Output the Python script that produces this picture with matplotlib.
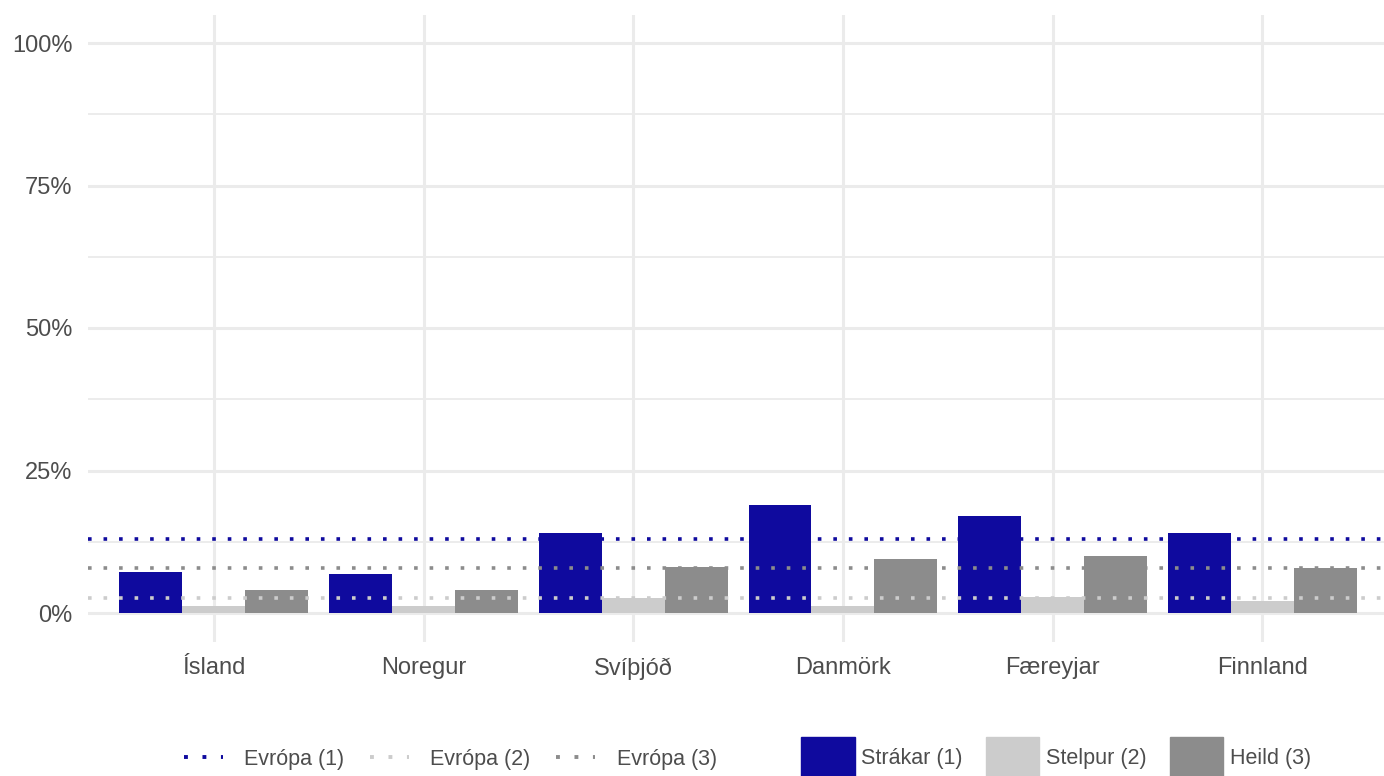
import matplotlib
matplotlib.use("Agg")
import matplotlib.pyplot as plt
import numpy as np
from matplotlib.lines import Line2D
from matplotlib.patches import Patch

plt.rcParams['font.family'] = ['Liberation Sans', 'DejaVu Sans']

countries = ["Ísland", "Noregur", "Svíþjóð", "Danmörk", "Færeyjar", "Finnland"]
strakar = [7.2, 6.8, 14.0, 18.9, 17.0, 14.0]
stelpur = [1.2, 1.2, 2.6, 1.2, 2.8, 2.1]
heild = [4.0, 4.0, 8.1, 9.5, 10.0, 7.9]
europe = [13.0, 2.7, 7.9]

series_labels = ["Strákar (1)", "Stelpur (2)", "Heild (3)"]
europe_labels = ["Evrópa (1)", "Evrópa (2)", "Evrópa (3)"]
colors = ["#0f0a9e", "#cccccc", "#8c8c8c"]

fig = plt.figure(figsize=(13.84, 7.76), dpi=100)
ax = fig.add_axes([88 / 1384, 1 - 641.5 / 776, 1 - 88 / 1384, (641.5 - 14.5) / 776])

x = np.arange(len(countries))
w = 0.3
for i, vals in enumerate([strakar, stelpur, heild]):
    ax.bar(x + (i - 1) * w, vals, width=w, color=colors[i], zorder=2)

for val, c in zip(europe, colors):
    ax.axhline(val, color=c, lw=2.6, linestyle=(0, (1, 3.3)), zorder=3)

ax.set_xlim(-0.6, 5.58)
ax.set_ylim(-5, 105)
ax.set_yticks([0, 25, 50, 75, 100])
ax.set_yticklabels(["0%", "25%", "50%", "75%", "100%"])
ax.set_yticks([12.5, 37.5, 62.5, 87.5], minor=True)
ax.set_xticks(x)
ax.set_xticklabels(countries)
ax.grid(True, which="major", color="#ebebeb", lw=2.2, zorder=0)
ax.grid(True, which="minor", axis="y", color="#ebebeb", lw=1.3, zorder=0)
ax.set_axisbelow(True)
for s in ax.spines.values():
    s.set_visible(False)
ax.tick_params(axis="both", which="both", length=0, labelsize=17, labelcolor="#4d4d4d")
ax.tick_params(axis="y", pad=11)
ax.tick_params(axis="x", pad=11.5)

# legends below the plot
line_handles = [Line2D([0], [0], color=c, lw=2.8, linestyle=(0, (1, 3.75))) for c in colors]
fig.legend(line_handles, europe_labels, loc="center left", bbox_to_anchor=(173 / 1384, 1 - 759 / 776),
           ncol=3, frameon=False, fontsize=15.5, handlelength=1.8, handletextpad=1.0,
           columnspacing=1.2, borderpad=0, labelcolor="#4d4d4d")
patch_handles = [Patch(color=c) for c in colors]
fig.legend(patch_handles, series_labels, loc="center left", bbox_to_anchor=(790 / 1384, 1 - 757 / 776),
           ncol=3, frameon=False, fontsize=15.5, handlelength=2.5, handleheight=2.45,
           handletextpad=0.32, columnspacing=1.05, borderpad=0, labelcolor="#4d4d4d")

fig.savefig("out.png", dpi=100)
